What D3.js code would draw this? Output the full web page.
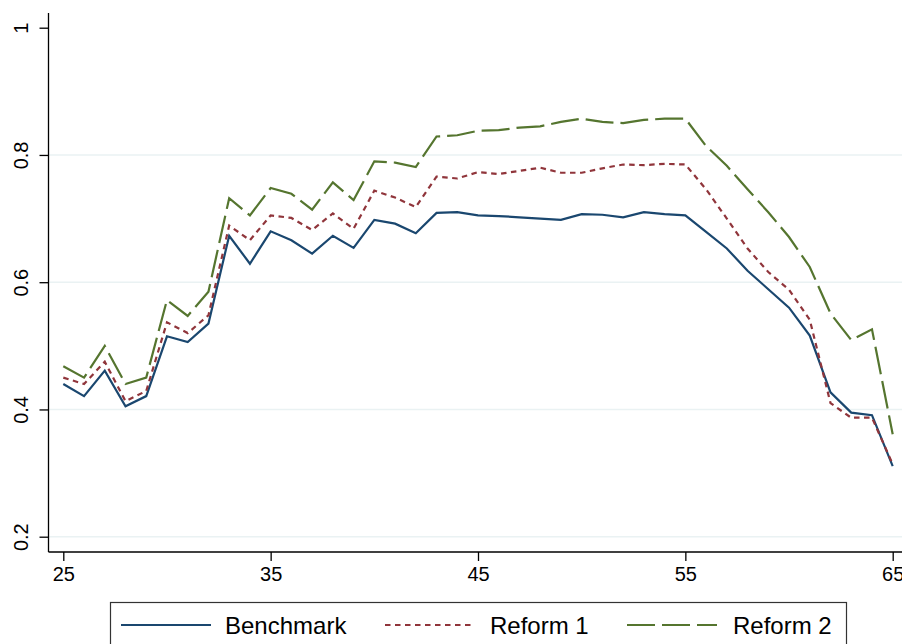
<!DOCTYPE html>
<html>
<head>
<meta charset="utf-8">
<script src="https://cdn.jsdelivr.net/npm/d3@7"></script>
<style>
  html, body { margin: 0; padding: 0; background: #fff; }
  svg { display: block; font-family: "Liberation Sans", Arial, Helvetica, sans-serif; }
</style>
</head>
<body>
<svg id="chart" width="902" height="644"></svg>
<script>
const ages = d3.range(25, 66);
const benchmark = [0.440,0.421,0.461,0.405,0.421,0.515,0.506,0.535,0.673,0.629,
  0.680,0.666,0.645,0.673,0.654,0.698,0.692,0.677,0.709,0.710,
  0.705,0.704,0.702,0.700,0.698,0.707,0.706,0.702,0.710,0.707,
  0.705,0.679,0.653,0.618,0.589,0.560,0.516,0.427,0.395,0.391,0.311];
const reform1 = [0.450,0.440,0.475,0.413,0.429,0.537,0.520,0.548,0.689,0.666,
  0.705,0.701,0.682,0.708,0.684,0.744,0.733,0.718,0.766,0.763,
  0.773,0.770,0.775,0.780,0.772,0.772,0.779,0.785,0.784,0.786,
  0.785,0.746,0.700,0.653,0.616,0.588,0.541,0.410,0.387,0.387,0.314];
const reform2 = [0.468,0.450,0.500,0.440,0.450,0.572,0.547,0.585,0.732,0.705,
  0.748,0.739,0.714,0.757,0.729,0.790,0.788,0.781,0.829,0.831,
  0.838,0.839,0.843,0.845,0.852,0.857,0.852,0.850,0.855,0.857,
  0.857,0.814,0.783,0.746,0.710,0.671,0.624,0.551,0.509,0.526,0.361];
const seriesNames = ["Benchmark", "Reform 1", "Reform 2"];
const xTicks = [25, 35, 45, 55, 65];
const yTicks = [0.2, 0.4, 0.6, 0.8, 1];
const gridTicks = [0.2, 0.4, 0.6, 0.8];

const svg = d3.select("#chart");
const axisX = 48.5, axisY = 552;
const x = d3.scaleLinear().domain([25, 65]).range([63.3, 892.7]);
const y = d3.scaleLinear().domain([0.2, 1]).range([536.7, 27.7]);

const styles = [
  { color: "#1a476f", dash: null },
  { color: "#90353b", dash: "5.5,4.5" },
  { color: "#55752f", dash: "28,7" }
];
const seriesData = [benchmark, reform1, reform2];

// gridlines
svg.append("g").selectAll("line").data(gridTicks).join("line")
  .attr("x1", axisX).attr("x2", 902)
  .attr("y1", d => y(d)).attr("y2", d => y(d))
  .attr("stroke", "#eaf2f3").attr("stroke-width", 1.5);

// y axis
const yAxis = d3.axisLeft(y).tickValues(yTicks).tickSize(9).tickPadding(18)
  .tickFormat(d => d3.format("")(+d.toFixed(1)));
const gy = svg.append("g").attr("transform", `translate(${axisX},0)`).call(yAxis);
gy.attr("font-size", null).attr("font-family", null);
gy.select(".domain").attr("d", `M0,13V${axisY}`).attr("stroke", "#000").attr("stroke-width", 1.3);
gy.selectAll(".tick line").attr("stroke", "#000").attr("stroke-width", 1.3);
gy.selectAll(".tick text")
  .style("font-size", "20px").attr("fill", "#000")
  .attr("text-anchor", "middle")
  .attr("x", 0).attr("dy", 0)
  .attr("transform", "translate(-27.5,0) rotate(-90)")
  .attr("dominant-baseline", "central");

// x axis
const xAxis = d3.axisBottom(x).tickValues(xTicks).tickSize(9).tickPadding(6).tickFormat(d3.format("d"));
const gx = svg.append("g").attr("transform", `translate(0,${axisY})`).call(xAxis);
gx.attr("font-size", null).attr("font-family", null);
gx.select(".domain").attr("d", `M${axisX},0H902`).attr("stroke", "#000").attr("stroke-width", 1.3);
gx.selectAll(".tick line").attr("stroke", "#000").attr("stroke-width", 1.3);
gx.selectAll(".tick text").style("font-size", "20px").attr("fill", "#000");

// lines
const line = d3.line().x((d, i) => x(ages[i])).y(d => y(d));
seriesData.forEach((arr, k) => {
  svg.append("path").datum(arr)
    .attr("d", line)
    .attr("fill", "none")
    .attr("stroke", styles[k].color)
    .attr("stroke-width", 2.2)
    .attr("stroke-linejoin", "miter")
    .attr("stroke-dasharray", styles[k].dash);
});

// legend
const lg = svg.append("g");
lg.append("rect").attr("x", 110.5).attr("y", 602.5).attr("width", 736).attr("height", 60)
  .attr("fill", "#fff").attr("stroke", "#333").attr("stroke-width", 1.2);
const legendItems = [
  { lx: 121, tx: 225 },
  { lx: 385, tx: 490 },
  { lx: 627, tx: 733 }
];
seriesNames.forEach((name, k) => {
  lg.append("line")
    .attr("x1", legendItems[k].lx).attr("x2", legendItems[k].lx + 90)
    .attr("y1", 625).attr("y2", 625)
    .attr("stroke", styles[k].color).attr("stroke-width", 2.2)
    .attr("stroke-dasharray", styles[k].dash);
  lg.append("text").attr("x", legendItems[k].tx).attr("y", 634)
    .style("font-size", "24px").attr("fill", "#000").text(name);
});
</script>
</body>
</html>
